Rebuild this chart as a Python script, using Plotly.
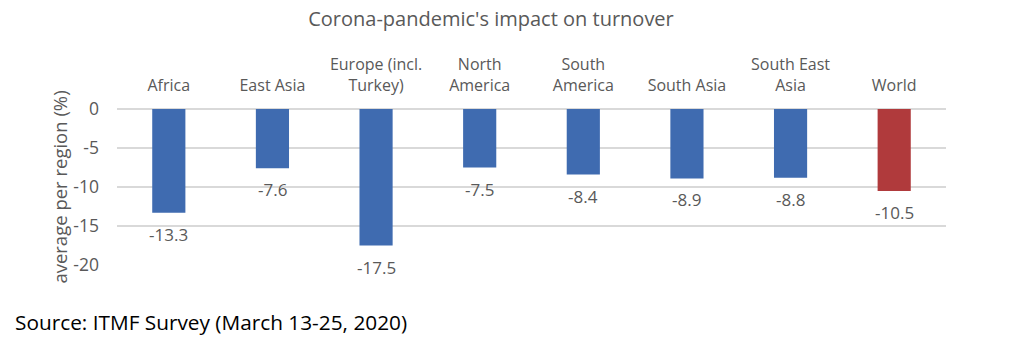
import plotly.graph_objects as go

categories = ["Africa", "East Asia", "Europe (incl.<br>Turkey)", "North<br>America",
              "South<br>America", "South Asia", "South East<br>Asia", "World"]
values = [-13.3, -7.6, -17.5, -7.5, -8.4, -8.9, -8.8, -10.5]
colors = ["#3F6BB0"] * 7 + ["#B03A3C"]
y_ticks = [0, -5, -10, -15, -20]

FONT = "Open Sans"
GRAY = "#595959"

fig = go.Figure()
fig.add_trace(go.Bar(
    x=categories, y=values,
    marker=dict(color=colors, line=dict(width=0)),
    cliponaxis=False,
    width=0.32,
))

annotations = [dict(x=c, y=v, xref="x", yref="y", text=f"{v:.1f}",
                    showarrow=False, yanchor="top", xanchor="center", yshift=-8,
                    font=dict(family=FONT, size=17, color=GRAY))
               for c, v in zip(categories, values)]
annotations.append(dict(text="Source: ITMF Survey (March 13-25, 2020)",
                        xref="paper", yref="paper", x=-104/829, y=-57/156,
                        xanchor="left", yanchor="middle", showarrow=False,
                        font=dict(family=FONT, size=20.8, color="black")))

fig.update_layout(
    width=1035, height=347,
    margin=dict(l=117, r=89, t=109, b=82),
    paper_bgcolor="white", plot_bgcolor="white",
    showlegend=False,
    title=dict(text="Corona-pandemic's impact on turnover",
               x=491 / 1035, xref="container", xanchor="center",
               y=0.945, yanchor="middle",
               font=dict(family=FONT, size=20, color=GRAY)),
    xaxis=dict(side="top", showgrid=False, showline=False, ticks="",
               ticklabelstandoff=14,
               tickfont=dict(family=FONT, size=16, color=GRAY)),
    yaxis=dict(range=[-20, 0], tickvals=y_ticks, ticktext=[str(t) for t in y_ticks],
               showgrid=True, gridcolor="#D9D9D9", gridwidth=1.5,
               zeroline=True, zerolinecolor="#D9D9D9", zerolinewidth=1.5,
               showline=False, ticks="", ticklabelstandoff=17,
               tickfont=dict(family=FONT, size=17.5, color=GRAY),
               title=dict(text="average per region (%)", standoff=0,
                          font=dict(family=FONT, size=18.5, color=GRAY))),
    annotations=annotations,
)

fig.write_html("out.html")
